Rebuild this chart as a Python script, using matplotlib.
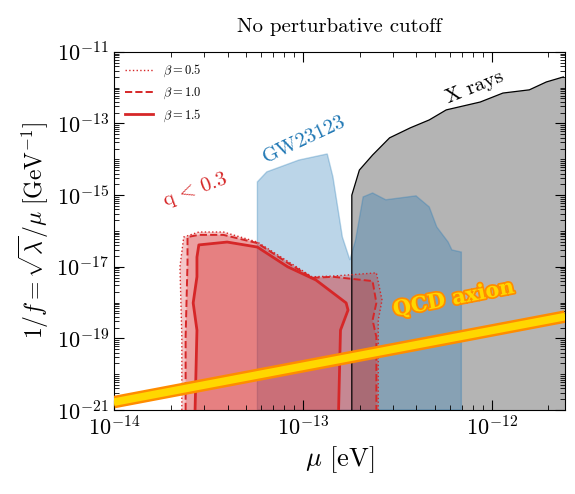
import numpy as np
import matplotlib.pyplot as plt
import matplotlib.patheffects as pe
from matplotlib.ticker import LogLocator, NullFormatter, FixedLocator

plt.rcParams['font.family'] = 'serif'
plt.rcParams['font.serif'] = ['cmr10', 'DejaVu Serif']
plt.rcParams['mathtext.fontset'] = 'cm'
plt.rcParams['axes.formatter.use_mathtext'] = True

# all curves in log10 units (mu [eV], 1/f [GeV^-1])
xray_x = [-12.74, -12.74, -12.70, -12.63, -12.54, -12.43, -12.33, -12.24, -12.15, -12.06, -11.94, -11.80, -11.71, -11.62, -11.61, -11.61]
xray_y = [-21.0, -15.0, -14.30, -13.88, -13.40, -13.12, -12.90, -12.62, -12.51, -12.40, -12.15, -12.06, -11.84, -11.70, -11.70, -21.0]

gw_x = [-13.24, -13.24, -13.19, -13.02, -12.87, -12.84, -12.79, -12.75, -12.72, -12.68, -12.63, -12.56, -12.40, -12.33, -12.29, -12.23, -12.21, -12.16, -12.16]
gw_y = [-21.0, -14.63, -14.35, -14.02, -13.85, -14.49, -16.17, -16.81, -16.25, -15.05, -14.94, -15.13, -15.02, -15.33, -15.89, -16.31, -16.53, -16.59, -21.0]

b05_x = [-13.64, -13.64, -13.65, -13.63, -13.55, -13.42, -13.24, -12.95, -12.84, -12.61, -12.58, -12.60, -12.60]
b05_y = [-21.0, -18.96, -17.00, -16.17, -16.03, -16.03, -16.31, -17.28, -17.26, -17.17, -17.93, -18.49, -21.0]
b10_x = [-13.62, -13.62, -13.61, -13.61, -13.55, -13.42, -13.24, -13.08, -12.95, -12.84, -12.63, -12.61, -12.63, -12.61, -12.61]
b10_y = [-21.0, -18.96, -16.89, -16.17, -16.11, -16.11, -16.34, -16.89, -17.31, -17.28, -17.40, -18.01, -18.49, -18.96, -21.0]
b15_x = [-13.57, -13.56, -13.58, -13.56, -13.56, -13.55, -13.40, -13.24, -13.08, -12.93, -12.77, -12.76, -12.80, -12.81]
b15_y = [-21.0, -18.77, -18.01, -17.28, -16.73, -16.39, -16.31, -16.45, -17.00, -17.37, -18.01, -18.21, -18.77, -21.0]

axion_x = [-14.0, -11.61]
axion_y = [-20.78, -18.39]

ytick_exp = [-21, -19, -17, -15, -13, -11]

fig = plt.figure(figsize=(5.75, 4.94), dpi=100)
ax = fig.add_axes([0.198, 0.170, 0.785, 0.725])

def P(a):
    return 10.0 ** np.array(a)

ax.fill(P(xray_x), P(xray_y), color='0.55', alpha=0.65, ec='none', zorder=1)
ax.plot(P(xray_x[:-2]), P(xray_y[:-2]), color='k', lw=0.9, zorder=2)
ax.fill(P(gw_x), P(gw_y), color='#1f77b4', alpha=0.3, ec='#1f77b4', lw=1.0, zorder=1)

red = '#d62728'
for xs, ys, ls, lw, lab in [(b05_x, b05_y, ':', 1.0, r'$\beta=0.5$'),
                            (b10_x, b10_y, '--', 1.4, r'$\beta=1.0$'),
                            (b15_x, b15_y, '-', 2.0, r'$\beta=1.5$')]:
    ax.fill(P(xs), P(ys), color=red, alpha=0.25, ec='none', zorder=1)
    ax.plot(P(xs), P(ys), color=red, ls=ls, lw=lw, label=lab, zorder=3)

ax.plot(P(axion_x), P(axion_y), color='#ff8c00', lw=9, solid_capstyle='butt', zorder=4)
ax.plot(P(axion_x), P(axion_y), color='#ffd700', lw=5.5, solid_capstyle='butt', zorder=5)

ax.set_xscale('log')
ax.set_yscale('log')
ax.set_xlim(1e-14, 10 ** -11.61)
ax.set_ylim(1e-21, 1e-11)
ax.yaxis.set_major_locator(FixedLocator(P(ytick_exp)))
ax.yaxis.set_minor_locator(LogLocator(base=10.0, subs=np.arange(1, 10), numticks=20))
ax.yaxis.set_minor_formatter(NullFormatter())
ax.xaxis.set_minor_formatter(NullFormatter())
ax.tick_params(which='both', direction='in', top=True, right=True, labelsize=16)
ax.tick_params(which='major', length=7)
ax.tick_params(which='minor', length=3.5)

ax.set_xlabel(r'$\mu$ [eV]', fontsize=19)
ax.set_ylabel(r'$1/f = \sqrt{\lambda}/\mu\ [\mathrm{GeV}^{-1}]$', fontsize=17)
ax.set_title('No perturbative cutoff', fontsize=15, pad=14)

ax.text(10 ** -12.09, 1e-12, 'X rays', rotation=22, fontsize=15, ha='center', va='center')
ax.text(10 ** -12.99, 3.5e-14, 'GW23123', rotation=25, fontsize=15, color='#1f77b4', ha='center', va='center')
ax.text(10 ** -13.57, 1.4e-15, r'q$\,<\,$0.3', rotation=20, fontsize=15, color=red, ha='center', va='center')
ax.text(10 ** -12.2, 1.3e-18, 'QCD axion', rotation=11, fontsize=15, fontweight='bold', color='#ffd700',
        ha='center', va='center', family='DejaVu Serif',
        path_effects=[pe.withStroke(linewidth=2.5, foreground='#ff8c00')], zorder=6)

ax.legend(loc='upper left', frameon=False, fontsize=9, handlelength=2.2)
fig.savefig('out.png', dpi=100)
